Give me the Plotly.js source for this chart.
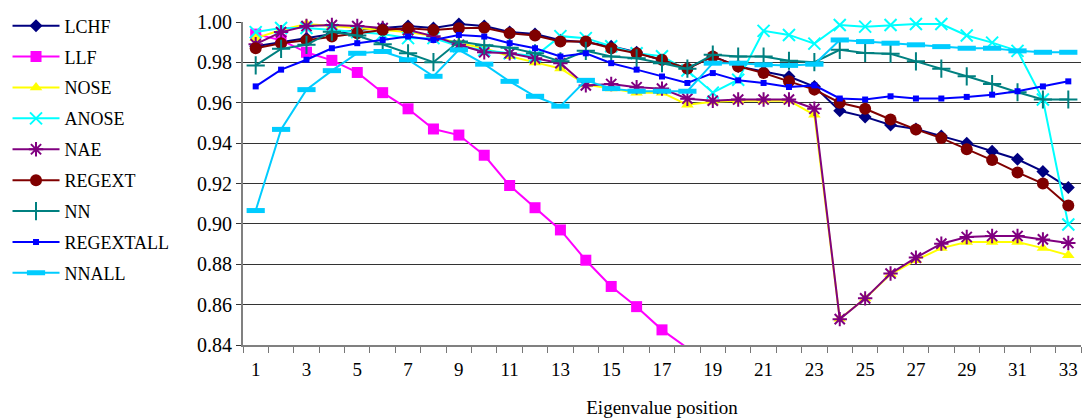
<!DOCTYPE html>
<html>
<head>
<meta charset="utf-8">
<script src="https://cdn.plot.ly/plotly-3.0.1.min.js"></script>
<style>html,body{margin:0;padding:0;background:#fff;}#chart{width:1088px;height:420px;}</style>
</head>
<body>
<div id="chart"></div>
<script>
const positions = [1,2,3,4,5,6,7,8,9,10,11,12,13,14,15,16,17,18,19,20,21,22,23,24,25,26,27,28,29,30,31,32,33];
const xTickLabels = [1,3,5,7,9,11,13,15,17,19,21,23,25,27,29,31,33];
const seriesNames = ['LCHF','LLF','NOSE','ANOSE','NAE','REGEXT','NN','REGEXTALL','NNALL'];

const LCHF = [0.988,0.990,0.992,0.994,0.996,0.997,0.998,0.997,0.999,0.998,0.995,0.994,0.991,0.990,0.988,0.985,0.981,0.977,0.983,0.978,0.9755,0.973,0.968,0.956,0.953,0.949,0.947,0.9435,0.940,0.936,0.932,0.926,0.918];
const LLF = [0.994,0.991,0.985,0.981,0.975,0.965,0.957,0.947,0.944,0.934,0.919,0.908,0.897,0.882,0.869,0.859,0.8475,0.8385];
const NOSE = [0.992,0.996,0.999,0.998,0.997,0.996,0.995,0.993,0.9895,0.987,0.983,0.980,0.977,0.969,0.967,0.965,0.965,0.959,0.9605,0.961,0.961,0.961,0.954,0.853,0.863,0.875,0.882,0.888,0.891,0.891,0.891,0.888,0.8845];
const ANOSE = [0.995,0.997,0.997,0.996,0.995,0.994,0.992,0.992,0.988,0.986,0.9845,0.983,0.993,0.992,0.988,0.9845,0.983,0.976,0.965,0.9714,0.9956,0.9936,0.9893,0.9985,0.9977,0.9985,0.999,0.999,0.9933,0.9898,0.9857,0.9616,0.8997];
const NAE = [0.989,0.995,0.998,0.9985,0.998,0.997,0.996,0.993,0.9887,0.985,0.9845,0.982,0.9796,0.9686,0.9693,0.9677,0.967,0.962,0.961,0.9616,0.9616,0.9616,0.957,0.8528,0.8631,0.8754,0.8833,0.8902,0.8935,0.894,0.894,0.8923,0.8905];
const REGEXT = [0.987,0.9895,0.991,0.9928,0.9944,0.996,0.9969,0.996,0.9969,0.9972,0.9944,0.9933,0.9903,0.9903,0.987,0.9845,0.9813,0.9769,0.9829,0.978,0.9747,0.9706,0.9665,0.960,0.957,0.9517,0.9468,0.9425,0.937,0.9316,0.9255,0.920,0.9091];
const NN = [0.9785,0.9867,0.9887,0.9952,0.9933,0.989,0.9845,0.9801,0.9903,0.9885,0.9873,0.9845,0.9805,0.9857,0.9829,0.982,0.9796,0.9769,0.9838,0.9829,0.9829,0.9808,0.9801,0.9862,0.9847,0.9843,0.9805,0.9769,0.9731,0.9693,0.9652,0.9616,0.9616];
const REGEXTALL = [0.9681,0.9764,0.9813,0.987,0.9895,0.9911,0.9928,0.9911,0.9936,0.9928,0.9895,0.987,0.9829,0.9845,0.9796,0.9764,0.973,0.9698,0.9747,0.9711,0.9698,0.9678,0.9686,0.9621,0.9616,0.9632,0.9621,0.9621,0.9629,0.964,0.9657,0.9681,0.9706];
const NNALL = [0.9066,0.9468,0.9665,0.9759,0.9845,0.9854,0.9813,0.9731,0.9862,0.9791,0.9706,0.9632,0.9583,0.9711,0.967,0.9657,0.9657,0.9657,0.9796,0.9796,0.9788,0.9785,0.9791,0.9911,0.9903,0.9895,0.9887,0.9878,0.987,0.987,0.9857,0.985,0.985];

const values = [LCHF, LLF, NOSE, ANOSE, NAE, REGEXT, NN, REGEXTALL, NNALL];
const styles = [
  {color:'#000080', marker:{symbol:'diamond', size:10}},
  {color:'#FF00FF', marker:{symbol:'square', size:11}},
  {color:'#FFFF00', marker:{symbol:'triangle-up', size:11}},
  {color:'#00FFFF', marker:{symbol:'x-thin-open', size:12, line:{width:2, color:'#00FFFF'}}},
  {color:'#800080', marker:{symbol:'asterisk-open', size:12, line:{width:2, color:'#800080'}}},
  {color:'#800000', marker:{symbol:'circle', size:12}},
  {color:'#008080', marker:{symbol:'cross-thin-open', size:13, line:{width:2, color:'#008080'}}},
  {color:'#0000FF', marker:{symbol:'square', size:6}},
  {color:'#00CCFF', marker:{symbol:'line-ew-open', size:13, line:{width:5, color:'#00CCFF'}}}
];

const traces = seriesNames.map((name, i) => {
  const st = styles[i];
  const m = Object.assign({color: st.color}, st.marker);
  return {
    type:'scatter', mode:'lines+markers', name:name, legendgroup:name,
    x: positions.slice(0, values[i].length), y: values[i],
    line:{color: st.color, width:2},
    marker: m,
    cliponaxis: name === 'LLF'
  };
});

const FAM = 'Liberation Serif, Times New Roman, serif';
const font = {family:FAM, size:18, color:'#000'};

const layout = {
  width:1088, height:420,
  margin:{l:243, r:7, t:20, b:75, pad:0},
  paper_bgcolor:'#fff', plot_bgcolor:'#fff',
  font: font,
  showlegend:true,
  legend:{x:-0.281, y:1.045, xanchor:'left', yanchor:'top', font:{family:FAM, size:18, color:'#000'},
          bgcolor:'rgba(0,0,0,0)', traceorder:'grouped', tracegroupgap:4.5, itemwidth:47, maxheight:420},
  xaxis:{
    range:[0.5, 33.5], tickmode:'array', tickvals:xTickLabels, ticktext:xTickLabels.map(String),
    ticks:'outside', ticklen:6, tickcolor:'rgba(0,0,0,0)',
    minor:{tick0:0.5, dtick:1, ticks:'outside', ticklen:6, tickcolor:'#777', tickwidth:1, showgrid:false},
    showline:true, linecolor:'#808080', linewidth:2, showgrid:false, zeroline:false,
    tickfont:{family:FAM, size:19, color:'#000'},
    title:{text:'Eigenvalue position', font:{family:FAM, size:19, color:'#000'}, standoff:22},
    automargin:false, fixedrange:true
  },
  yaxis:{
    range:[0.84, 1.0], dtick:0.02, tick0:0.84, tickformat:'.2f',
    ticks:'outside', ticklen:5, tickcolor:'#333', tickwidth:1,
    showline:true, linecolor:'#808080', linewidth:2,
    showgrid:true, gridcolor:'#333', gridwidth:1, zeroline:false,
    tickfont:{family:FAM, size:20, color:'#000'},
    automargin:false, fixedrange:true
  }
};

Plotly.newPlot('chart', traces, layout, {displayModeBar:false, staticPlot:true});
</script>
</body>
</html>
